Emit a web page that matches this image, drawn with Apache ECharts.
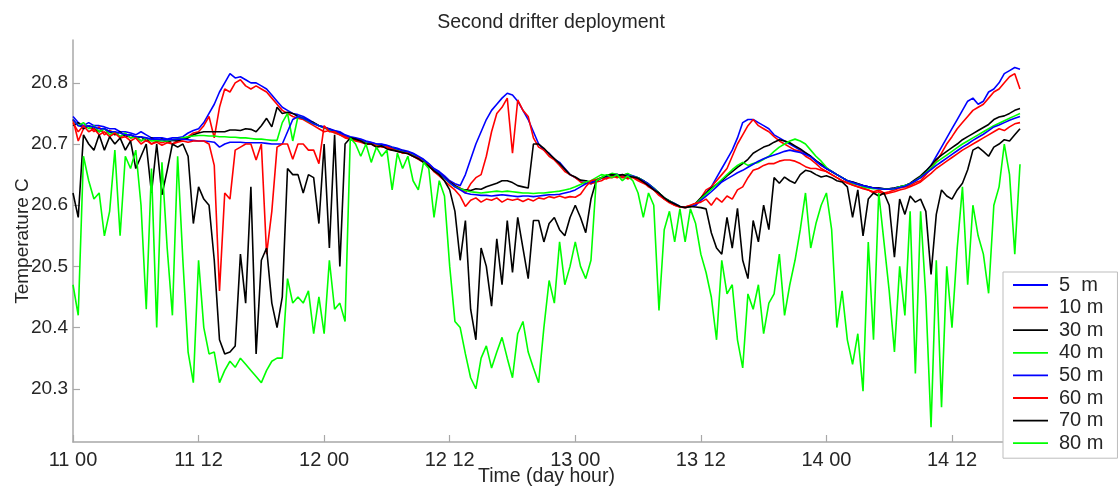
<!DOCTYPE html>
<html>
<head>
<meta charset="utf-8">
<script src="https://cdn.jsdelivr.net/npm/echarts@6/dist/echarts.min.js"></script>
<style>
html,body{margin:0;padding:0;background:#fff;}
#chart{width:1120px;height:488px;}
</style>
</head>
<body>
<div id="chart"></div>
<script>
// Time in hours since day 11, 00:00
const hours = [
0,0.5,1,1.5,2,2.5,3,3.5,4,4.5,
5,5.5,6,6.5,7,7.5,8,8.5,9,9.5,
10,10.5,11,11.5,12,12.5,13,13.5,14,14.5,
15,15.5,16,16.5,17,17.5,18,18.5,19,19.5,
20,20.5,21,21.5,22,22.5,23,23.5,24,24.5,
25,25.5,26,26.5,27,27.5,28,28.5,29,29.5,
30,30.5,31,31.5,32,32.5,33,33.5,34,34.5,
35,35.5,36,36.5,37,37.5,38,38.5,39,39.5,
40,40.5,41,41.5,42,42.5,43,43.5,44,44.5,
45,45.5,46,46.5,47,47.5,48,48.5,49,49.5,
50,50.5,51,51.5,52,52.5,53,53.5,54,54.5,
55,55.5,56,56.5,57,57.5,58,58.5,59,59.5,
60,60.5,61,61.5,62,62.5,63,63.5,64,64.5,
65,65.5,66,66.5,67,67.5,68,68.5,69,69.5,
70,70.5,71,71.5,72,72.5,73,73.5,74,74.5,
75,75.5,76,76.5,77,77.5,78,78.5,79,79.5,
80,80.5,81,81.5,82,82.5,83,83.5,84,84.5,
85,85.5,86,86.5,87,87.5,88,88.5,89,89.5,
90,90.5
];

const depth5 = [
20.745,20.735,20.73,20.735,20.73,20.73,20.728,20.725,20.725,20.72,
20.72,20.718,20.715,20.72,20.715,20.71,20.71,20.71,20.708,20.71,
20.71,20.712,20.718,20.722,20.725,20.735,20.75,20.765,20.785,20.80,
20.815,20.808,20.81,20.805,20.80,20.80,20.795,20.79,20.78,20.77,
20.76,20.755,20.75,20.748,20.745,20.74,20.735,20.73,20.728,20.725,
20.722,20.72,20.715,20.712,20.71,20.708,20.705,20.703,20.70,20.70,
20.698,20.695,20.693,20.69,20.688,20.685,20.68,20.675,20.668,20.66,
20.655,20.648,20.64,20.635,20.632,20.65,20.675,20.70,20.72,20.74,
20.755,20.765,20.775,20.783,20.78,20.77,20.755,20.74,20.72,20.70,
20.69,20.685,20.675,20.67,20.66,20.65,20.645,20.64,20.64,20.635,
20.64,20.645,20.648,20.65,20.65,20.648,20.65,20.648,20.645,20.64,
20.635,20.628,20.62,20.612,20.607,20.603,20.598,20.597,20.598,20.60,
20.61,20.62,20.63,20.645,20.66,20.675,20.69,20.71,20.735,20.74,
20.74,20.735,20.73,20.725,20.715,20.71,20.705,20.70,20.695,20.69,
20.685,20.68,20.672,20.665,20.66,20.655,20.65,20.645,20.64,20.638,
20.635,20.632,20.63,20.628,20.628,20.627,20.627,20.628,20.63,20.632,
20.635,20.64,20.645,20.655,20.665,20.68,20.695,20.71,20.725,20.74,
20.755,20.77,20.775,20.765,20.77,20.785,20.79,20.80,20.815,20.82,
20.825,20.822
];

const depth10 = [
20.74,20.705,20.725,20.73,20.72,20.728,20.715,20.722,20.718,20.712,
20.715,20.71,20.712,20.705,20.71,20.70,20.705,20.702,20.705,20.70,
20.705,20.708,20.712,20.718,20.72,20.73,20.745,20.71,20.76,20.79,
20.785,20.80,20.805,20.795,20.79,20.795,20.79,20.785,20.775,20.765,
20.755,20.75,20.745,20.742,20.74,20.735,20.73,20.725,20.72,20.722,
20.718,20.715,20.71,20.708,20.705,20.703,20.70,20.70,20.695,20.697,
20.693,20.69,20.69,20.685,20.685,20.68,20.675,20.67,20.665,20.655,
20.652,20.645,20.638,20.632,20.628,20.62,20.635,20.645,20.65,20.68,
20.72,20.75,20.76,20.775,20.685,20.772,20.755,20.745,20.71,20.695,
20.69,20.68,20.674,20.665,20.655,20.65,20.645,20.638,20.636,20.635,
20.638,20.64,20.645,20.645,20.648,20.645,20.645,20.645,20.64,20.636,
20.632,20.625,20.618,20.61,20.605,20.60,20.597,20.596,20.598,20.60,
20.612,20.625,20.63,20.64,20.65,20.66,20.68,20.70,20.715,20.73,
20.74,20.73,20.725,20.72,20.712,20.705,20.70,20.695,20.69,20.688,
20.68,20.675,20.668,20.66,20.655,20.65,20.645,20.64,20.636,20.633,
20.63,20.628,20.625,20.622,20.625,20.62,20.622,20.625,20.628,20.63,
20.632,20.637,20.64,20.65,20.66,20.672,20.685,20.70,20.712,20.725,
20.735,20.745,20.755,20.76,20.765,20.775,20.785,20.79,20.80,20.81,
20.815,20.79
];

const depth30 = [
20.73,20.735,20.725,20.73,20.725,20.72,20.725,20.72,20.715,20.72,
20.712,20.715,20.71,20.712,20.705,20.71,20.705,20.708,20.703,20.706,
20.705,20.708,20.71,20.715,20.718,20.72,20.72,20.72,20.72,20.72,
20.723,20.723,20.722,20.725,20.724,20.72,20.73,20.742,20.728,20.76,
20.75,20.752,20.75,20.745,20.742,20.738,20.735,20.73,20.727,20.724,
20.72,20.718,20.713,20.71,20.708,20.706,20.703,20.70,20.699,20.698,
20.696,20.693,20.691,20.689,20.686,20.683,20.678,20.673,20.666,20.658,
20.652,20.645,20.638,20.632,20.627,20.625,20.624,20.627,20.626,20.63,
20.633,20.636,20.64,20.64,20.637,20.632,20.63,20.628,20.70,20.70,
20.693,20.684,20.676,20.668,20.659,20.65,20.646,20.641,20.64,20.637,
20.641,20.645,20.648,20.651,20.65,20.649,20.651,20.647,20.645,20.64,
20.634,20.627,20.62,20.612,20.607,20.602,20.598,20.597,20.599,20.603,
20.612,20.62,20.628,20.634,20.64,20.648,20.655,20.662,20.668,20.675,
20.685,20.69,20.695,20.698,20.703,20.707,20.705,20.702,20.697,20.692,
20.686,20.68,20.673,20.667,20.66,20.655,20.65,20.645,20.64,20.638,
20.635,20.632,20.63,20.628,20.628,20.627,20.627,20.628,20.63,20.632,
20.636,20.642,20.648,20.656,20.665,20.675,20.682,20.688,20.694,20.70,
20.707,20.712,20.717,20.722,20.727,20.732,20.74,20.744,20.746,20.75,
20.755,20.758
];

const depth40 = [
20.74,20.73,20.735,20.725,20.73,20.72,20.725,20.715,20.72,20.712,
20.718,20.71,20.712,20.705,20.71,20.705,20.706,20.705,20.705,20.707,
20.708,20.71,20.712,20.713,20.714,20.714,20.713,20.713,20.712,20.712,
20.711,20.711,20.71,20.71,20.709,20.708,20.708,20.707,20.706,20.706,
20.735,20.75,20.705,20.745,20.742,20.737,20.733,20.73,20.726,20.723,
20.72,20.716,20.713,20.71,20.707,20.706,20.703,20.701,20.699,20.698,
20.696,20.694,20.691,20.688,20.686,20.683,20.678,20.673,20.666,20.658,
20.652,20.644,20.636,20.63,20.627,20.624,20.622,20.621,20.62,20.621,
20.622,20.623,20.622,20.623,20.622,20.621,20.62,20.62,20.619,20.62,
20.62,20.621,20.622,20.623,20.625,20.627,20.63,20.634,20.638,20.64,
20.645,20.65,20.648,20.652,20.65,20.648,20.652,20.647,20.645,20.64,
20.634,20.628,20.62,20.612,20.607,20.602,20.598,20.597,20.598,20.602,
20.61,20.618,20.626,20.634,20.642,20.65,20.658,20.665,20.67,20.665,
20.668,20.67,20.675,20.68,20.688,20.695,20.70,20.705,20.708,20.705,
20.70,20.69,20.68,20.672,20.662,20.655,20.65,20.645,20.64,20.635,
20.634,20.63,20.628,20.627,20.627,20.626,20.626,20.627,20.63,20.632,
20.635,20.64,20.646,20.653,20.66,20.67,20.676,20.682,20.688,20.694,
20.70,20.705,20.71,20.715,20.72,20.725,20.73,20.734,20.738,20.742,
20.746,20.75
];

const depth50 = [
20.74,20.73,20.728,20.73,20.728,20.725,20.725,20.72,20.72,20.718,
20.715,20.715,20.712,20.712,20.71,20.708,20.708,20.707,20.707,20.707,
20.708,20.708,20.707,20.706,20.705,20.705,20.704,20.703,20.695,20.70,
20.703,20.703,20.703,20.702,20.702,20.702,20.702,20.701,20.70,20.70,
20.70,20.72,20.74,20.745,20.742,20.738,20.733,20.73,20.727,20.724,
20.721,20.718,20.714,20.711,20.709,20.707,20.704,20.702,20.70,20.699,
20.697,20.694,20.692,20.689,20.687,20.684,20.679,20.674,20.667,20.659,
20.653,20.645,20.637,20.63,20.625,20.62,20.618,20.617,20.616,20.616,
20.615,20.616,20.617,20.616,20.615,20.614,20.615,20.615,20.614,20.615,
20.616,20.617,20.617,20.618,20.62,20.622,20.625,20.63,20.635,20.637,
20.64,20.644,20.647,20.649,20.65,20.647,20.649,20.647,20.644,20.64,
20.634,20.627,20.619,20.611,20.606,20.602,20.598,20.597,20.598,20.60,
20.608,20.615,20.622,20.63,20.638,20.643,20.648,20.653,20.657,20.662,
20.667,20.672,20.676,20.679,20.682,20.685,20.688,20.69,20.688,20.686,
20.683,20.679,20.672,20.665,20.66,20.655,20.65,20.645,20.64,20.637,
20.634,20.632,20.63,20.628,20.627,20.626,20.626,20.627,20.629,20.631,
20.635,20.64,20.645,20.652,20.658,20.665,20.671,20.677,20.683,20.689,
20.695,20.70,20.706,20.711,20.716,20.722,20.728,20.731,20.735,20.739,
20.742,20.745
];

const depth60 = [
20.735,20.72,20.73,20.72,20.725,20.715,20.72,20.712,20.718,20.71,
20.712,20.705,20.71,20.70,20.706,20.70,20.703,20.698,20.702,20.70,
20.703,20.705,20.703,20.705,20.705,20.705,20.70,20.665,20.46,20.62,
20.61,20.69,20.695,20.70,20.70,20.674,20.70,20.52,20.59,20.695,
20.70,20.70,20.675,20.70,20.70,20.69,20.69,20.668,20.73,20.72,
20.72,20.715,20.712,20.708,20.706,20.705,20.70,20.70,20.697,20.695,
20.695,20.692,20.688,20.686,20.685,20.68,20.677,20.67,20.665,20.655,
20.648,20.64,20.632,20.625,20.615,20.598,20.608,20.612,20.605,20.61,
20.608,20.612,20.605,20.61,20.608,20.61,20.606,20.61,20.607,20.612,
20.61,20.614,20.612,20.615,20.612,20.614,20.613,20.618,20.63,20.64,
20.642,20.645,20.643,20.648,20.645,20.648,20.643,20.646,20.642,20.638,
20.63,20.625,20.616,20.61,20.604,20.60,20.597,20.597,20.60,20.603,
20.605,20.61,20.60,20.612,20.605,20.615,20.61,20.625,20.63,20.645,
20.657,20.66,20.665,20.668,20.668,20.672,20.674,20.674,20.672,20.668,
20.663,20.66,20.66,20.657,20.655,20.65,20.645,20.64,20.637,20.633,
20.63,20.627,20.625,20.62,20.622,20.618,20.62,20.622,20.625,20.627,
20.63,20.634,20.638,20.645,20.652,20.66,20.666,20.672,20.678,20.684,
20.69,20.695,20.70,20.705,20.71,20.715,20.72,20.725,20.722,20.728,
20.733,20.735
];

const depth70 = [
20.62,20.58,20.715,20.70,20.69,20.715,20.69,20.712,20.70,20.71,
20.69,20.705,20.66,20.68,20.70,20.62,20.70,20.617,20.657,20.70,
20.695,20.70,20.68,20.57,20.63,20.61,20.60,20.51,20.38,20.357,
20.36,20.37,20.52,20.44,20.63,20.357,20.51,20.53,20.44,20.40,
20.45,20.66,20.65,20.65,20.62,20.65,20.645,20.57,20.70,20.53,
20.715,20.50,20.70,20.71,20.708,20.705,20.70,20.70,20.695,20.697,
20.692,20.69,20.688,20.686,20.684,20.68,20.676,20.67,20.664,20.656,
20.65,20.64,20.625,20.59,20.51,20.575,20.43,20.38,20.53,20.50,
20.435,20.545,20.47,20.575,20.49,20.58,20.53,20.48,20.575,20.575,
20.54,20.57,20.58,20.56,20.55,20.58,20.60,20.58,20.555,20.61,
20.64,20.645,20.648,20.65,20.648,20.65,20.647,20.646,20.644,20.638,
20.632,20.625,20.62,20.612,20.606,20.602,20.598,20.596,20.598,20.597,
20.596,20.594,20.555,20.53,20.52,20.58,20.53,20.595,20.51,20.48,
20.575,20.54,20.60,20.56,20.645,20.636,20.646,20.64,20.636,20.65,
20.657,20.655,20.65,20.646,20.648,20.645,20.64,20.638,20.63,20.58,
20.625,20.55,20.61,20.62,20.615,20.62,20.60,20.515,20.61,20.585,
20.615,20.605,20.61,20.59,20.487,20.585,20.625,20.615,20.61,20.625,
20.636,20.658,20.69,20.695,20.688,20.68,20.695,20.70,20.707,20.705,
20.715,20.725
];

const depth80 = [
20.47,20.42,20.68,20.64,20.61,20.62,20.55,20.59,20.69,20.55,
20.68,20.66,20.69,20.60,20.43,20.66,20.40,20.67,20.53,20.42,
20.68,20.51,20.36,20.31,20.51,20.40,20.357,20.36,20.31,20.33,
20.345,20.335,20.35,20.34,20.33,20.32,20.31,20.33,20.345,20.35,
20.35,20.48,20.44,20.45,20.44,20.46,20.39,20.45,20.39,20.51,
20.43,20.44,20.41,20.71,20.70,20.68,20.70,20.67,20.695,20.68,
20.69,20.625,20.685,20.66,20.68,20.64,20.625,20.67,20.66,20.58,
20.64,20.615,20.50,20.41,20.40,20.357,20.318,20.30,20.35,20.37,
20.334,20.36,20.384,20.35,20.318,20.39,20.41,20.36,20.334,20.31,
20.40,20.477,20.44,20.54,20.47,20.50,20.54,20.50,20.48,20.51,
20.64,20.645,20.65,20.645,20.65,20.64,20.648,20.64,20.62,20.58,
20.62,20.60,20.428,20.56,20.59,20.54,20.594,20.54,20.594,20.57,
20.52,20.49,20.45,20.38,20.51,20.455,20.47,20.38,20.334,20.455,
20.43,20.47,20.39,20.44,20.455,20.52,20.42,20.47,20.51,20.56,
20.62,20.53,20.57,20.60,20.62,20.56,20.40,20.46,20.38,20.34,
20.39,20.296,20.54,20.38,20.62,20.54,20.46,20.36,20.50,20.42,
20.59,20.325,20.59,20.45,20.237,20.51,20.27,20.50,20.40,20.53,
20.63,20.47,20.60,20.55,20.52,20.456,20.60,20.63,20.70,20.65,
20.52,20.667
];

const seriesNames = ['5  m','10 m','30 m','40 m','50 m','60 m','70 m','80 m'];
const seriesValues = [depth5, depth10, depth30, depth40, depth50, depth60, depth70, depth80];
const seriesColors = ['#0000ff','#ff0000','#000000','#00ff00','#0000ff','#ff0000','#000000','#00ff00'];

const xTickHours = [0,12,24,36,48,60,72,84];
const xTickLabels = ['11 00','11 12','12 00','12 12','13 00','13 12','14 00','14 12'];
const yTickValues = [20.3,20.4,20.5,20.6,20.7,20.8];

const FONT = 'Liberation Sans, Arial, sans-serif';
const TXT = '#262626';
const AX = '#a8a8a8';

const chart = echarts.init(document.getElementById('chart'), null, {renderer:'canvas'});
chart.setOption({
  animation: false,
  backgroundColor: '#ffffff',
  title: {
    text: 'Second drifter deployment',
    left: 546, top: 8,
    textAlign: 'center',
    textStyle: {fontFamily: FONT, fontSize: 19.5, fontWeight: 'normal', color: TXT}
  },
  legend: {
    orient: 'vertical',
    left: 1003, top: 272,
    padding: [3, 14, 5, 10],
    itemGap: 2.6,
    itemWidth: 35,
    itemHeight: 1.8,
    icon: 'rect',
    backgroundColor: '#ffffff',
    borderColor: '#bdbdbd',
    borderWidth: 1,
    borderRadius: 0,
    textStyle: {fontFamily: FONT, fontSize: 20, color: TXT, lineHeight: 20, padding: [0,0,0,6]},
    data: seriesNames
  },
  grid: {left: 73, top: 40, width: 947, height: 402, containLabel: false, outerBoundsMode: 'none'},
  xAxis: {
    type: 'value', min: 0, max: 90.5,
    name: 'Time (day hour)', nameLocation: 'middle', nameGap: 25, nameMoveOverlap: false,
    nameTextStyle: {fontFamily: FONT, fontSize: 19.5, color: TXT, verticalAlign: 'top'},
    axisLine: {show: true, lineStyle: {color: AX, width: 1.5}},
    axisTick: {show: true, inside: true, length: 7, lineStyle: {color: AX, width: 1.2}, customValues: xTickHours},
    axisLabel: {
      customValues: xTickHours, margin: 8,
      fontFamily: FONT, fontSize: 20, color: TXT,
      formatter: function (v) { const k = xTickHours.indexOf(v); return k >= 0 ? xTickLabels[k] : ''; }
    },
    splitLine: {show: false}
  },
  yAxis: {
    type: 'value', min: 20.213, max: 20.87,
    name: 'Temperature C', nameLocation: 'middle', nameGap: 41, nameRotate: 90, nameMoveOverlap: false,
    nameTextStyle: {fontFamily: FONT, fontSize: 19, color: TXT},
    axisLine: {show: true, lineStyle: {color: AX, width: 1.5}},
    axisTick: {show: true, inside: true, length: 7, lineStyle: {color: AX, width: 1.2}, customValues: yTickValues},
    axisLabel: {
      customValues: yTickValues, margin: 5,
      fontFamily: FONT, fontSize: 19, color: TXT,
      formatter: function (v) { return v.toFixed(1); }
    },
    splitLine: {show: false}
  },
  series: seriesNames.map(function (name, s) {
    return {
      name: name,
      type: 'line',
      symbol: 'none',
      showSymbol: false,
      sampling: null,
      color: seriesColors[s],
      lineStyle: {color: seriesColors[s], width: 1.6},
      emphasis: {disabled: true},
      data: hours.map(function (h, i) { return [h, seriesValues[s][i]]; })
    };
  })
});
</script>
</body>
</html>
